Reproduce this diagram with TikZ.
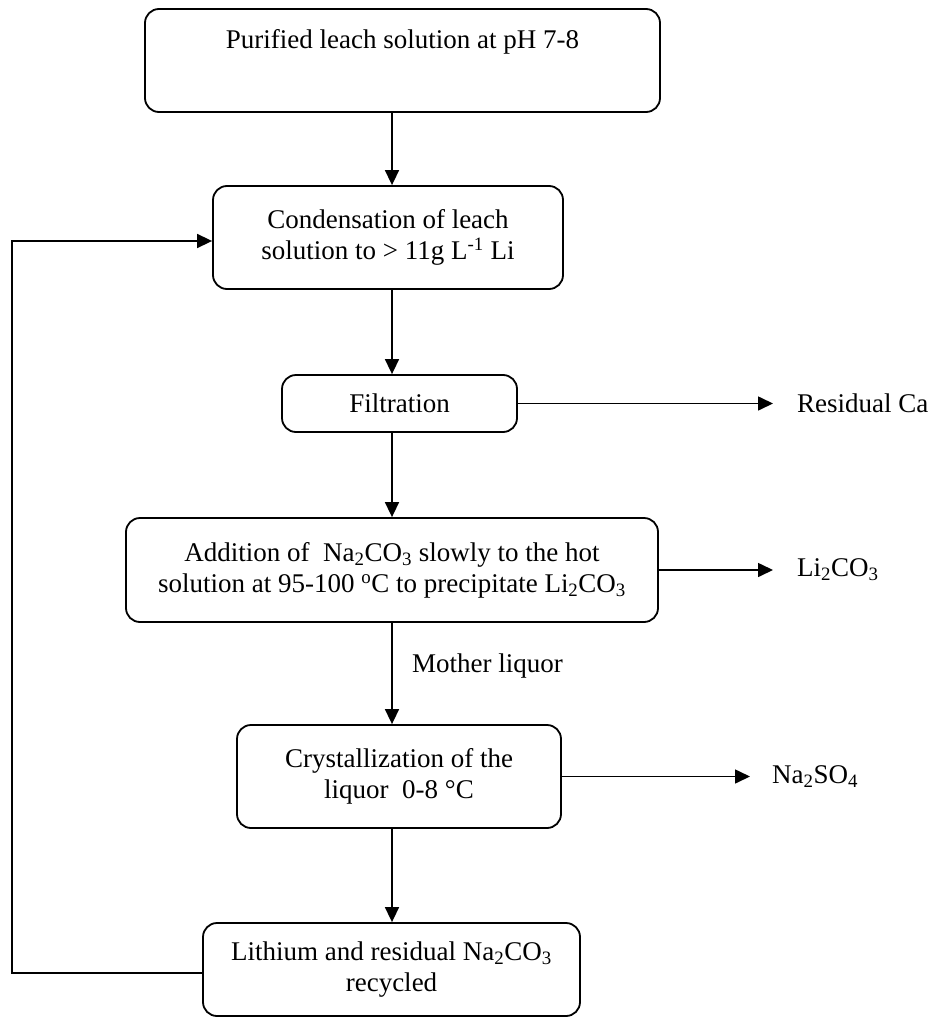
\documentclass[tikz,border=0pt]{standalone}
\usepackage{fontspec}
\setmainfont{Liberation Serif}
\usetikzlibrary{arrows.meta}
\begin{document}
\begin{tikzpicture}[x=1pt,y=-1pt,
  box/.style={draw, line width=1.8pt, rounded corners=14pt, align=center, inner sep=0pt,
    font=\fontsize{27}{31}\selectfont},
  arr/.style={line width=1.6pt, -{Triangle[length=15pt,width=14pt]}},
  lab/.style={font=\fontsize{27}{31}\selectfont, anchor=west, inner ysep=0pt}]
\useasboundingbox (0,0) rectangle (929,1019);
\coordinate (xc) at (392,0);
\coordinate (lp) at (12,0);
\coordinate (ylo) at (0,973);
\coordinate (yhi) at (0,241);
\node[box, minimum width=515pt, minimum height=103pt] (b1) at (402.5,60.5)
  {Purified leach solution at pH 7-8\\[2pt] \strut};
\node[box, minimum width=350pt, minimum height=103pt] (b2) at (388,237.5)
  {Condensation of leach\\ solution to > 11g L\textsuperscript{-1} Li};
\node[box, minimum width=235pt, minimum height=57pt] (b3) at (399.5,403.5)
  {Filtration};
\node[box, minimum width=532pt, minimum height=104pt] (b4) at (392,570)
  {Addition of \ Na\textsubscript{2}CO\textsubscript{3} slowly to the hot\\ solution at 95-100 \textsuperscript{o}C to precipitate Li\textsubscript{2}CO\textsubscript{3}};
\node[box, minimum width=324pt, minimum height=103pt] (b5) at (399,776.5)
  {Crystallization of the\\ liquor \ 0-8 °C};
\node[box, minimum width=377pt, minimum height=93pt] (b6) at (391.5,969.5)
  {Lithium and residual Na\textsubscript{2}CO\textsubscript{3}\\ recycled};
\node[lab, inner xsep=24pt] (rc) at (773,403.5) {Residual Ca};
\node[lab, inner xsep=24pt] (li) at (773,570) {Li\textsubscript{2}CO\textsubscript{3}};
\node[lab, inner xsep=22pt] (na) at (750,776.5) {Na\textsubscript{2}SO\textsubscript{4}};
\node[lab, inner xsep=0pt] (ml) at (412,666) {Mother liquor};
\draw[arr] (b1.south -| xc) -- (b2.north -| xc);
\draw[arr] (b2.south -| xc) -- (b3.north -| xc);
\draw[arr] (b3.south -| xc) -- (b4.north -| xc);
\draw[arr] (b4.south -| xc) -- (b5.north -| xc);
\draw[arr] (b5.south -| xc) -- (b6.north -| xc);
\draw[arr] (b3.east) -- (rc.west);
\draw[arr] (b4.east) -- (li.west);
\draw[arr] (b5.east) -- (na.west);
\draw[arr] (b6.west |- ylo) -- (lp |- ylo) -- (lp |- yhi) -- (b2.west |- yhi);
\end{tikzpicture}
\end{document}
